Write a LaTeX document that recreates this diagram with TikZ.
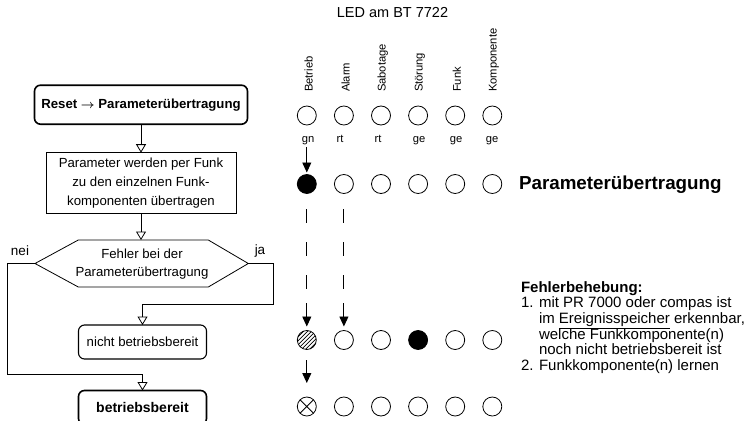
\documentclass[tikz,border=0pt]{standalone}
\usepackage{amsmath}
\usepackage{fontspec}
\setmainfont{Liberation Sans}
\usetikzlibrary{arrows.meta}
\newcommand{\fsA}{\fontsize{13.2}{16}\selectfont}
\newcommand{\fsB}{\fontsize{13.2}{18.7}\selectfont}
\newcommand{\fsC}{\fontsize{13.2}{17.7}\selectfont}
\newcommand{\fsD}{\fontsize{14}{16}\selectfont}
\newcommand{\fsE}{\fontsize{13.5}{16}\selectfont}
\newcommand{\fsH}{\fontsize{14.5}{17}\selectfont}
\newcommand{\fsL}{\fontsize{11.2}{13}\selectfont}
\newcommand{\fsP}{\fontsize{18.8}{22}\selectfont}
\newcommand{\fsR}{\fontsize{15}{15.7}\selectfont}
\begin{document}
\begin{tikzpicture}[x=1pt,y=1pt,
  every node/.style={inner sep=0pt, outer sep=0pt},
  fc/.style={line width=0.8pt},
  fcarr/.style={line width=0.8pt, -{Triangle[open,width=10pt,length=8.5pt,line width=0.8pt]}},
  boxthick/.style={draw, line width=1.6pt, rounded corners=6pt, align=center},
  boxthin/.style={draw, line width=0.8pt, align=center},
  boxmid/.style={draw, line width=1.1pt, rounded corners=6pt, align=center},
  led/.style={circle, draw, line width=0.8pt, minimum size=19pt},
  ledon/.style={led, fill=black},
  ledhatch/.style={led, path picture={
      \foreach \k in {-16,-12,...,16}
        \draw[line width=0.7pt] ([xshift=\k pt]path picture bounding box.center) ++(-12pt,-12pt) -- ++(24pt,24pt);}},
  ledcross/.style={led, path picture={
      \draw[line width=0.8pt] (path picture bounding box.north west) -- (path picture bounding box.south east)
        (path picture bounding box.north east) -- (path picture bounding box.south west);}},
  ledarr/.style={line width=0.9pt, -{Triangle[width=9pt,length=10pt]}},
  ledash/.style={line width=0.9pt, dash pattern=on 14pt off 19pt},
  collbl/.style={rotate=90, anchor=west, font=\fsL},
  colorlbl/.style={anchor=base, font=\fsL},
  rtxt/.style={anchor=base west, font=\fsR}
]
\useasboundingbox (0,0) rectangle (749,-420);

% ---------------- flowchart ----------------
\node[boxthick, minimum width=213pt, minimum height=39pt, font=\bfseries\fsA] (b1) at (141,-104.7) {Reset $\boldsymbol{\rightarrow}$ Parameterübertragung};
\node[boxthin, minimum width=190pt, minimum height=60.6pt, font=\fsB] (b2) at (141,-183) {Parameter werden per Funk\\zu den einzelnen Funk-\\komponenten übertragen};

\coordinate (hl) at (35,-263.5);
\coordinate (hr) at (248.3,-263.5);
\coordinate (ht) at (141,-240);
\draw[fc] (hl) -- (78.3,-240) -- (208.3,-240) -- (hr) -- (208.3,-287) -- (78.3,-287) -- cycle;
\node[font=\fsC, align=center] (dec) at (142,-264) {Fehler bei der\\Parameterübertragung};

\node[boxmid, minimum width=128pt, minimum height=34pt, font=\fsB] (nb) at (142.5,-342) {nicht betriebsbereit};
\node[boxthick, minimum width=128pt, minimum height=34pt, font=\bfseries\fsD] (bb) at (142.5,-407.5) {betriebsbereit};

\node[font=\fsE] (nei) at (20,-250.7) {nei};
\node[font=\fsE] (ja) at (260,-250.7) {ja};

\coordinate (jr) at (273.3,-304);
\coordinate (jl) at (7.3,-374.3);
\draw[fcarr] (b1.south) -- (b2.north);
\draw[fcarr] (b2.south) -- (ht);
\draw[fcarr] (hr) -| (jr) -| (nb.north);
\draw[fcarr] (hl) -| (jl) -| (bb.north);

% ---------------- LED panel ----------------
\node[font=\fsH] (hdr) at (392.5,-12.7) {LED am BT 7722};

\node[collbl] (t1) at (308.5,-92) {Betrieb};
\node[collbl] (t2) at (345.6,-92) {Alarm};
\node[collbl] (t3) at (382.7,-92) {Sabotage};
\node[collbl] (t4) at (419.8,-92) {Störung};
\node[collbl] (t5) at (456.9,-92) {Funk};
\node[collbl] (t6) at (494.0,-92) {Komponente};

% row 1
\node[led] (l11) at (306.8,-115.5) {};
\node[led] (l12) at (343.9,-115.5) {};
\node[led] (l13) at (381.0,-115.5) {};
\node[led] (l14) at (418.1,-115.5) {};
\node[led] (l15) at (455.2,-115.5) {};
\node[led] (l16) at (492.3,-115.5) {};

\node[colorlbl] (c1) at (308,-142) {gn};
\node[colorlbl] (c2) at (340,-142) {rt};
\node[colorlbl] (c3) at (378,-142) {rt};
\node[colorlbl] (c4) at (419,-142) {ge};
\node[colorlbl] (c5) at (456,-142) {ge};
\node[colorlbl] (c6) at (492,-142) {ge};

% row 2
\node[ledon] (l21) at (306.8,-184) {};
\node[led] (l22) at (343.9,-184) {};
\node[led] (l23) at (381.0,-184) {};
\node[led] (l24) at (418.1,-184) {};
\node[led] (l25) at (455.2,-184) {};
\node[led] (l26) at (492.3,-184) {};

% row 3
\node[ledhatch] (l31) at (306.8,-340) {};
\node[led] (l32) at (343.9,-340) {};
\node[led] (l33) at (381.0,-340) {};
\node[ledon] (l34) at (418.1,-340) {};
\node[led] (l35) at (455.2,-340) {};
\node[led] (l36) at (492.3,-340) {};

% row 4
\node[ledcross] (l41) at (306.8,-406.5) {};
\node[led] (l42) at (343.9,-406.5) {};
\node[led] (l43) at (381.0,-406.5) {};
\node[led] (l44) at (418.1,-406.5) {};
\node[led] (l45) at (455.2,-406.5) {};
\node[led] (l46) at (492.3,-406.5) {};

% arrows
\draw[ledarr, shorten <=2.5pt, shorten >=2pt] (l21.north |- c1.south) -- (l21.north);
\draw[ledash] ([yshift=-15.5pt]l21.south) -- ([yshift=-95.5pt]l21.south);
\draw[ledash] ([yshift=-15.5pt]l22.south) -- ([yshift=-95.5pt]l22.south);
\draw[ledarr, shorten >=4pt] ([yshift=27.5pt]l31.north) -- (l31.north);
\draw[ledarr, shorten >=4pt] ([yshift=27.5pt]l32.north) -- (l32.north);
\draw[ledarr] ([yshift=-10.5pt]l31.south) -- ([yshift=14pt]l41.north);

% ---------------- right texts ----------------
\node[anchor=west, font=\bfseries\fsP] (ph) at (519,-185) {Parameterübertragung};

\node[rtxt, font=\bfseries\fsR] (fb) at (521,-292) {Fehlerbehebung:};
\node[rtxt] (n1) at (521,-307.7) {1.};
\node[rtxt] (r1) at (539,-307.7) {mit PR 7000 oder compas ist};
\node[rtxt] (r2) at (539,-323.4) {im \underline{Ereignisspeicher} erkennbar,};
\node[rtxt] (r3) at (539,-339.1) {welche Funkkomponente(n)};
\node[rtxt] (r4) at (539,-354.8) {noch nicht betriebsbereit ist};
\node[rtxt] (n2) at (521,-370.5) {2.};
\node[rtxt] (r5) at (539,-370.5) {Funkkomponente(n) lernen};
\end{tikzpicture}
\end{document}
